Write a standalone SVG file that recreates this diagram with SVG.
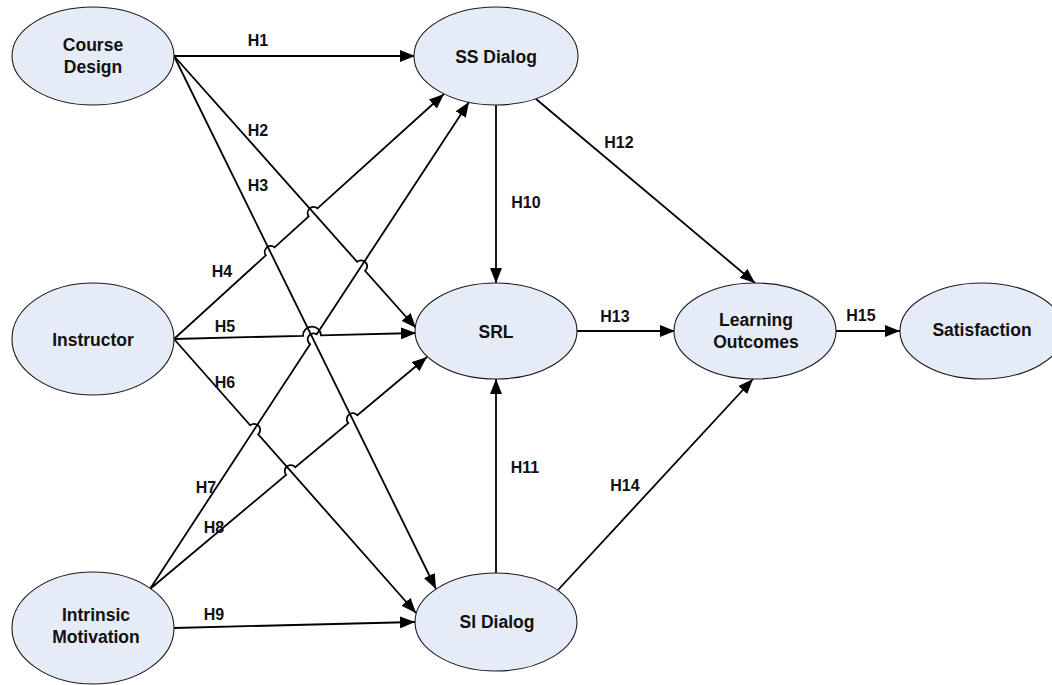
<svg xmlns="http://www.w3.org/2000/svg" width="1052" height="685" viewBox="0 0 1052 685">
<style>
.node{fill:#e6ecf7;stroke:#1a1a1a;stroke-width:1.1}
.nt{font-family:"Liberation Sans",Arial,sans-serif;font-weight:bold;font-size:17.5px;fill:#111;text-anchor:middle}
.lb{font-family:"Liberation Sans",Arial,sans-serif;font-weight:bold;font-size:16px;fill:#111;text-anchor:middle}
.ed{fill:none;stroke:#000;stroke-width:1.8;marker-end:url(#ah)}
</style>
<defs>
<marker id="ah" markerUnits="userSpaceOnUse" markerWidth="16" markerHeight="12" refX="15" refY="6" orient="auto">
<path d="M0,0 L15,6 L0,12 z" fill="#000"/>
</marker>
</defs>
<rect width="1052" height="685" fill="#fff"/>
<g id="connectors">
<path class="ed" d="M174,56 L415,56"/>
<path class="ed" d="M174,56 L357.1,261.8 A6,6 0 0 1 365.1,270.8 L416,328"/>
<path class="ed" d="M174,56 L436,589"/>
<path class="ed" d="M174,339 L265.8,255.4 A6,6 0 0 1 274.6,247.4 L308.7,216.4 A6,6 0 0 1 317.5,208.4 L444,94"/>
<path class="ed" d="M174,339 L303,335.8 A9,9 0 0 1 321,335.4 L416,333"/>
<path class="ed" d="M174,339 L250.2,425.3 A6,6 0 0 1 258.2,434.3 L416,613"/>
<path class="ed" d="M150,589 L310.1,344.2 A6,6 0 0 1 316.7,334.2 L469,102"/>
<path class="ed" d="M150,589 L286.1,474.9 A6,6 0 0 1 295.3,467.2 L348.2,423.1 A6,6 0 0 1 357.4,415.3 L427,357"/>
<path class="ed" d="M174,628 L415,622"/>
<path class="ed" d="M496,105 L496,283"/>
<path class="ed" d="M496,573 L496,379"/>
<path class="ed" d="M536,99 L755,283"/>
<path class="ed" d="M577,331 L675,331"/>
<path class="ed" d="M558,590 L753,379"/>
<path class="ed" d="M836,331 L900,331"/>
<text class="lb" x="258" y="46">H1</text>
<text class="lb" x="258" y="136">H2</text>
<text class="lb" x="258" y="191">H3</text>
<text class="lb" x="222" y="277">H4</text>
<text class="lb" x="225" y="332">H5</text>
<text class="lb" x="225" y="388">H6</text>
<text class="lb" x="206" y="493">H7</text>
<text class="lb" x="214" y="533">H8</text>
<text class="lb" x="214" y="620">H9</text>
<text class="lb" x="526" y="208">H10</text>
<text class="lb" x="525" y="473">H11</text>
<text class="lb" x="619" y="148">H12</text>
<text class="lb" x="615" y="322">H13</text>
<text class="lb" x="625" y="491">H14</text>
<text class="lb" x="861" y="321">H15</text>
</g>
<g id="course-design"><ellipse class="node" cx="93" cy="56" rx="81" ry="49"/><text class="nt" x="93" y="51">Course</text><text class="nt" x="93" y="73">Design</text></g>
<g id="instructor"><ellipse class="node" cx="93" cy="339" rx="81" ry="56"/><text class="nt" x="93" y="346">Instructor</text></g>
<g id="intrinsic-motivation"><ellipse class="node" cx="93" cy="628" rx="81" ry="56"/><text class="nt" x="96" y="621">Intrinsic</text><text class="nt" x="96" y="643">Motivation</text></g>
<g id="ss-dialog"><ellipse class="node" cx="496" cy="56" rx="82" ry="49"/><text class="nt" x="496" y="63">SS Dialog</text></g>
<g id="srl"><ellipse class="node" cx="496" cy="331" rx="81" ry="48"/><text class="nt" x="496" y="338">SRL</text></g>
<g id="si-dialog"><ellipse class="node" cx="496" cy="622" rx="81" ry="49"/><text class="nt" x="497" y="628">SI Dialog</text></g>
<g id="learning-outcomes"><ellipse class="node" cx="755" cy="331" rx="81" ry="48"/><text class="nt" x="756" y="326">Learning</text><text class="nt" x="756" y="348">Outcomes</text></g>
<g id="satisfaction"><ellipse class="node" cx="982" cy="331" rx="82" ry="48"/><text class="nt" x="982" y="336">Satisfaction</text></g>
</svg>
